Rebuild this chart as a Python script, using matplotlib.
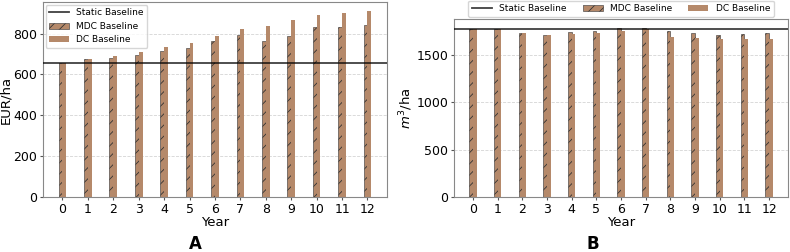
import numpy as np
import matplotlib
matplotlib.use("Agg")
import matplotlib.pyplot as plt

years = np.arange(13)

# panel A: EUR/ha
static_a = 657
mdc_a = [657, 675, 680, 694, 717, 730, 763, 792, 766, 789, 831, 831, 841]
dc_a = [657, 675, 688, 709, 735, 754, 790, 824, 839, 868, 889, 901, 909]

# panel B: m3/ha
static_b = 1777
mdc_b = [1777, 1777, 1738, 1717, 1745, 1759, 1784, 1791, 1756, 1728, 1717, 1724, 1728]
dc_b = [1777, 1777, 1728, 1707, 1724, 1738, 1759, 1773, 1696, 1679, 1675, 1675, 1675]

brown = "#b5896a"
w = 0.15
fs = 9

plt.rcParams['hatch.linewidth'] = 0.6
fig = plt.figure(figsize=(7.9, 2.52), dpi=100)
ax1 = fig.add_axes([0.0544, 0.218, 0.4354, 0.774])
ax2 = fig.add_axes([0.5747, 0.218, 0.4228, 0.7064])


def panel(ax, static, mdc, dc, ylabel):
    ax.axhline(static, color="black", lw=1.3, alpha=0.75, label="Static Baseline", zorder=3)
    ax.bar(years - w / 2, mdc, width=w, color=brown, edgecolor="#333333",
           linewidth=0.4, hatch="///", label="MDC Baseline", zorder=2)
    ax.bar(years + w / 2, dc, width=w, color=brown, label="DC Baseline", zorder=2)
    ax.set_xticks(years)
    ax.tick_params(labelsize=fs, length=2.5, pad=1.5, color="#555555")
    ax.set_xlabel("Year", fontsize=9.5, labelpad=0)
    ax.set_ylabel(ylabel, fontsize=9.5)
    ax.grid(axis="y", ls="--", lw=0.6, color="#d5d5d5", zorder=0)
    ax.set_axisbelow(True)
    for s in ax.spines.values():
        s.set_color("#888888")


panel(ax1, static_a, mdc_a, dc_a, "EUR/ha")
panel(ax2, static_b, mdc_b, dc_b, "$m^3$/ha")
ax1.set_yticks([0, 200, 400, 600, 800])
ax2.set_yticks([0, 500, 1000, 1500])
ax1.yaxis.set_label_coords(-0.09, 0.5)
ax2.yaxis.set_label_coords(-0.118, 0.5)

ax1.legend(loc="upper left", fontsize=6.5, borderaxespad=0.3, handlelength=2.2)
ax2.legend(loc="lower center", bbox_to_anchor=(0.5, 1.0), ncol=3, fontsize=6.5,
           borderaxespad=0.25, handlelength=2.2, columnspacing=1.8)

fig.text(0.247, 0.032, "A", fontsize=12, fontweight="bold", ha="center", va="center")
fig.text(0.751, 0.032, "B", fontsize=12, fontweight="bold", ha="center", va="center")

fig.savefig("out.png", dpi=100)
